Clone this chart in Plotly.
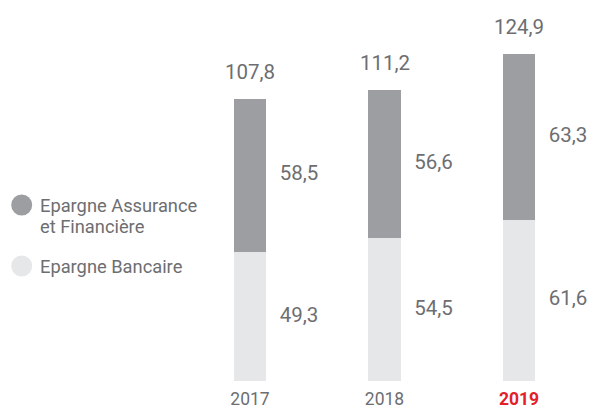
import plotly.graph_objects as go

years = ["2017", "2018", "2019"]
bancaire = [49.3, 54.5, 61.6]
assurance = [58.5, 56.6, 63.3]
totals = [107.8, 111.2, 124.9]
legend_lines = [["Epargne Assurance", "et Financière"], ["Epargne Bancaire"]]

DARK = "#9d9ea2"
LIGHT = "#e6e7e8"
TEXT = "#6d6e71"
RED = "#e3202a"
FONT = "Roboto"

# page body has an 8px margin: figure is drawn 8px smaller and offset
OFF = 8
W, H = 595 - OFF, 410 - OFF


def fmt(v):
    return f"{v:.1f}".replace(".", ",")


xs = list(range(len(years)))
bw = 0.245
lab_dx = 0.365

fig = go.Figure()
fig.add_trace(go.Bar(x=xs, y=bancaire, width=bw, marker_color=LIGHT,
                     marker_line_width=0, showlegend=False, hoverinfo="skip"))
fig.add_trace(go.Bar(x=xs, y=assurance, width=bw, marker_color=DARK,
                     marker_line_width=0, showlegend=False, hoverinfo="skip"))

# segment labels to the right
fig.add_trace(go.Scatter(x=[x + lab_dx for x in xs], y=[b / 2 for b in bancaire], mode="text",
                         text=[fmt(v) for v in bancaire], textposition="middle center",
                         textfont=dict(family=FONT, size=20.5, color=TEXT),
                         showlegend=False, hoverinfo="skip", cliponaxis=False))
fig.add_trace(go.Scatter(x=[x + lab_dx for x in xs], y=[b + a / 2 for b, a in zip(bancaire, assurance)],
                         mode="text", text=[fmt(v) for v in assurance], textposition="middle center",
                         textfont=dict(family=FONT, size=20.5, color=TEXT),
                         showlegend=False, hoverinfo="skip", cliponaxis=False))

# totals above bars
for x, t in zip(xs, totals):
    fig.add_annotation(x=x, y=t, xref="x", yref="y", text=fmt(t), showarrow=False,
                       xanchor="center", yanchor="bottom", yshift=13,
                       font=dict(family=FONT, size=20.5, color=TEXT))

ticktext = [y if i < len(years) - 1 else f"<b><span style='color:{RED}'>{y}</span></b>"
            for i, y in enumerate(years)]

scale = 134.5
ppu = 2.618
bottom = 381 - OFF
x0 = -(250 - OFF) / scale
x1 = x0 + W / scale

fig.update_layout(
    width=W, height=H,
    margin=dict(l=0, r=0, t=0, b=H - bottom),
    paper_bgcolor="white", plot_bgcolor="white",
    barmode="stack", bargap=0,
    font=dict(family=FONT, color=TEXT),
    xaxis=dict(range=[x0, x1], tickvals=xs, ticktext=ticktext, showgrid=False,
               zeroline=False, showline=False, ticks="", ticklabelstandoff=5,
               tickfont=dict(family=FONT, size=17.5, color=TEXT), fixedrange=True),
    yaxis=dict(range=[0, bottom / ppu], visible=False, showgrid=False, zeroline=False,
               fixedrange=True),
)

# custom legend with circles (paper coords span the plot area: W x bottom)
PH = bottom
legend_y = [205 - OFF, 266 - OFF]
colors = [DARK, LIGHT]
line_gap = 22
for yc, col, lines in zip(legend_y, colors, legend_lines):
    cx = 21.7 - OFF
    fig.add_shape(type="circle", xref="paper", yref="paper",
                  x0=(cx - 10.5) / W, x1=(cx + 10.5) / W,
                  y0=1 - (yc + 10.5) / PH, y1=1 - (yc - 10.5) / PH,
                  fillcolor=col, line_width=0, layer="above")
    for k, line in enumerate(lines):
        fig.add_annotation(xref="paper", yref="paper", x=(37.5 - OFF) / W,
                           y=1 - (yc + k * line_gap) / PH,
                           xanchor="left", yanchor="middle", text=line, showarrow=False,
                           align="left", font=dict(family=FONT, size=18.3, color=TEXT))

fig.write_html("out.html")
